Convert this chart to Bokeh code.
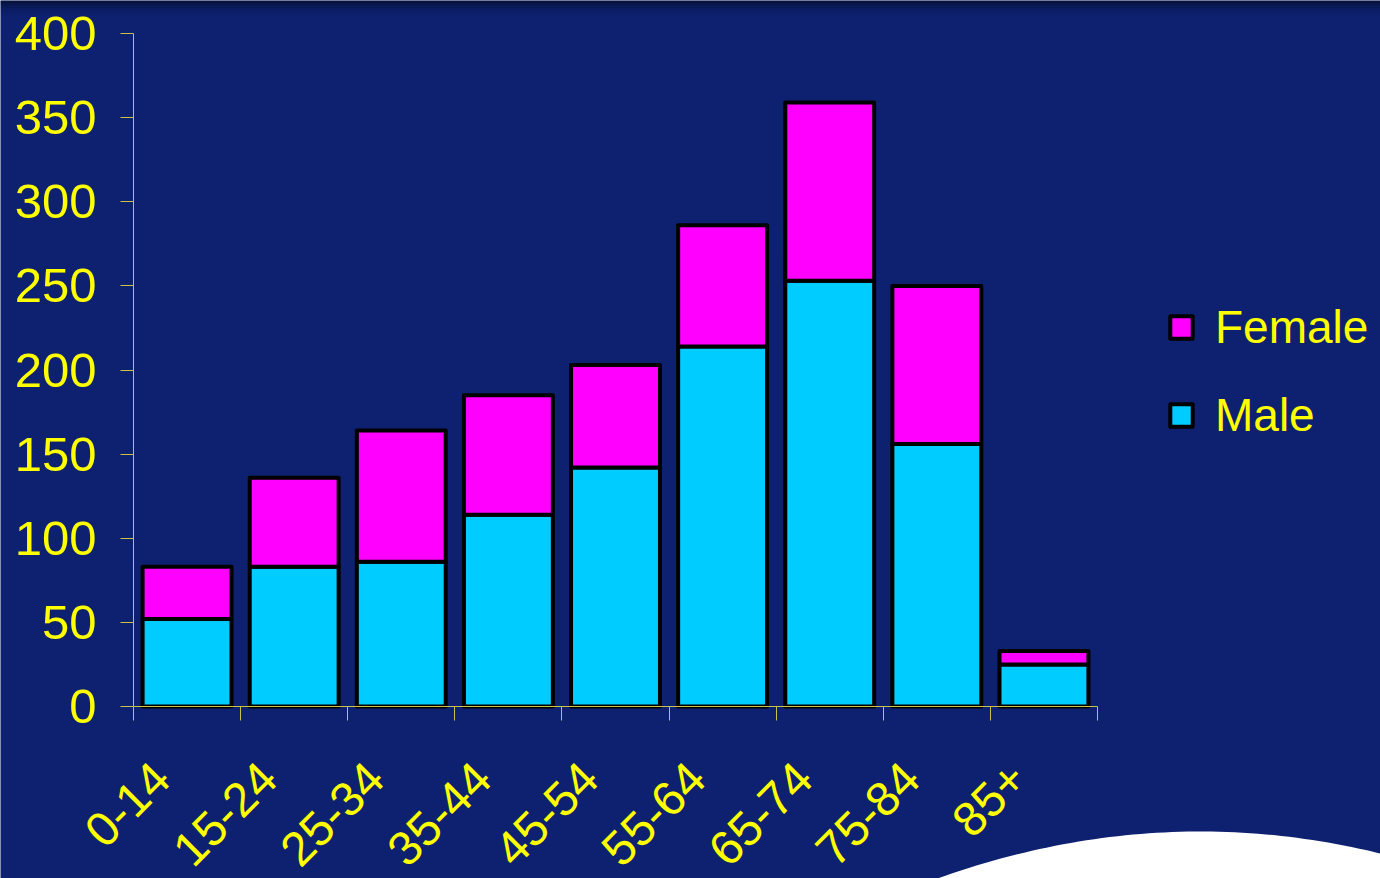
import numpy as np
from bokeh.plotting import figure
from bokeh.models import (Range1d, FixedTicker, Legend, LegendItem, ColumnDataSource,
                          PolyAnnotation, BoxAnnotation)
from bokeh.embed import file_html
from bokeh.resources import INLINE

# ---- data ----
categories = ["0-14", "15-24", "25-34", "35-44", "45-54", "55-64", "65-74", "75-84", "85+"]
male = [52, 83, 86, 114, 142, 214, 253, 156, 25]
female = [31, 53, 78, 71, 61, 72, 106, 94, 8]
y_ticks = [0, 50, 100, 150, 200, 250, 300, 350, 400]

# ---- styling ----
BG = "#0e2170"
YELLOW = "#ffff00"
AXIS = "#c8c24a"
CYAN = "#00ccff"
MAGENTA = "#ff00ff"
FONT = "Liberation Sans"

W, H = 1380, 878
# pixel layout of the plotting area inside the full-canvas frame
PX_LEFT, PX_RIGHT, PX_TOP, PX_BOTTOM = 133, 1097, 33, 706
n = len(categories)
ymax = 400
xs_per_px = n / (PX_RIGHT - PX_LEFT)
ys_per_px = ymax / (PX_BOTTOM - PX_TOP)
x_range = Range1d(-PX_LEFT * xs_per_px, n + (W - PX_RIGHT) * xs_per_px)
y_range = Range1d(-(H - PX_BOTTOM) * ys_per_px, ymax + PX_TOP * ys_per_px)

xpos = [i + 0.5 for i in range(n)]
src = ColumnDataSource(dict(x=xpos, male=male, female=female, cat=categories))

p = figure(width=W, height=H, output_backend="svg", toolbar_location=None,
           x_range=x_range, y_range=y_range,
           min_border_left=0, min_border_right=0, min_border_top=0,
           min_border_bottom=0)
p.background_fill_color = BG
p.border_fill_color = BG
p.outline_line_color = None
p.grid.visible = False

# darker band at the very top of the slide (screen y measured from bottom)
for i, a in enumerate([0.45, 0.32, 0.22, 0.14, 0.08, 0.04]):
    p.add_layout(BoxAnnotation(top=H - i * 2.5, bottom=H - (i + 1) * 2.5, left=0, right=W,
                               top_units="screen", bottom_units="screen",
                               left_units="screen", right_units="screen",
                               fill_color="black", fill_alpha=a, line_alpha=0,
                               level="underlay"))

# decorative white swoosh in the lower right corner
sx = np.linspace(930, 1390, 60)
sy = 831 + 0.000679 * (sx - 1200) ** 2
poly = PolyAnnotation(xs=list(sx) + [1390, 930], ys=list(H - sy) + [-10, -10],
                      xs_units="screen", ys_units="screen",
                      fill_color="white", fill_alpha=1, line_alpha=0, level="underlay")
p.add_layout(poly)

rs = p.vbar_stack(["male", "female"], x="x", width=0.83, source=src,
                  fill_color=[CYAN, MAGENTA], line_color="black", line_width=4,
                  line_join="round")

# x axis: ticks at category boundaries (minor), labels near centers (major, hidden ticks)
label_shift = 0.24
label_pos = [x - label_shift for x in xpos]
xa = p.xaxis[0]
xa.fixed_location = 0
xa.bounds = (0, n)
xa.ticker = FixedTicker(ticks=label_pos, minor_ticks=list(range(n + 1)))
xa.major_label_overrides = {float(x): c for x, c in zip(label_pos, categories)}
xa.major_tick_out = 0
xa.major_tick_in = 0
xa.minor_tick_out = 14
xa.minor_tick_in = 0
xa.minor_tick_line_color = AXIS
xa.axis_line_color = AXIS
xa.major_label_orientation = np.pi / 4
xa.major_label_text_font = FONT
xa.major_label_text_font_size = "48px"
xa.major_label_text_color = YELLOW
xa.major_label_standoff = 50

ya = p.yaxis[0]
ya.fixed_location = 0
ya.bounds = (0, ymax)
ya.ticker = FixedTicker(ticks=y_ticks, minor_ticks=[])
ya.major_tick_out = 13
ya.major_tick_in = 0
ya.major_tick_line_color = AXIS
ya.axis_line_color = AXIS
ya.major_label_text_font = FONT
ya.major_label_text_font_size = "49px"
ya.major_label_text_color = YELLOW
ya.major_label_standoff = 24

legend = Legend(items=[LegendItem(label="Female", renderers=[rs[1]]),
                       LegendItem(label="Male", renderers=[rs[0]])],
                location=(1167, 434), orientation="vertical",
                label_text_font=FONT, label_text_font_size="46px",
                label_text_color=YELLOW, label_height=58,
                background_fill_alpha=0, border_line_alpha=0,
                glyph_width=28, glyph_height=28,
                label_standoff=20, spacing=30, padding=0, margin=0)
p.add_layout(legend, "center")

open("out.html", "w").write(file_html(p, INLINE))
